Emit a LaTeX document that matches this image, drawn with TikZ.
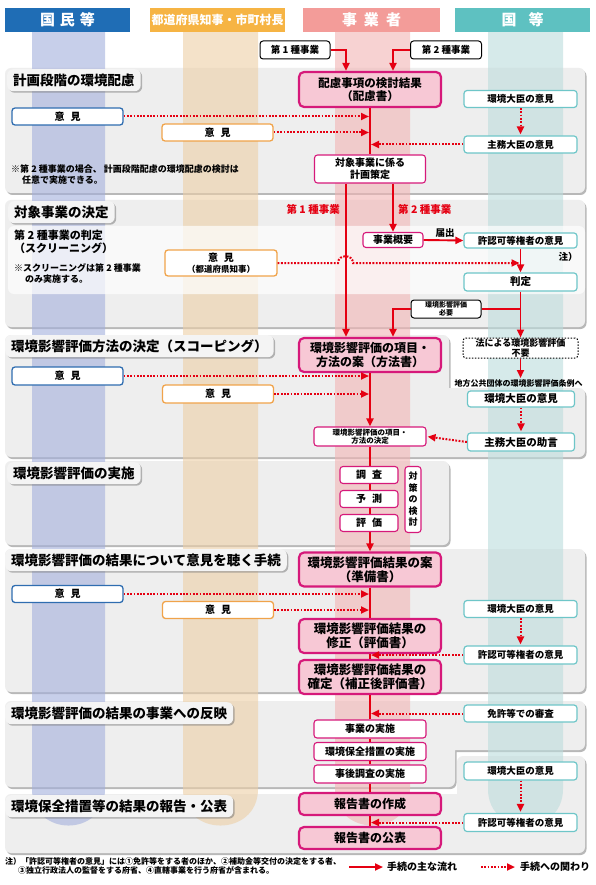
\documentclass[tikz,border=0pt]{standalone}
\usepackage{fontspec}
\setmainfont{Noto Sans CJK JP}
\usetikzlibrary{arrows.meta,shadows}
\definecolor{hblue}{HTML}{1F6DB5}
\definecolor{horange}{HTML}{F6B444}
\definecolor{hred}{HTML}{F39C99}
\definecolor{hteal}{HTML}{5EC1C1}
\definecolor{bandb}{HTML}{A3AFDC}
\definecolor{bando}{HTML}{EDCFA6}
\definecolor{bandr}{HTML}{F2B4B4}
\definecolor{bandt}{HTML}{BCDCDC}
\definecolor{secgray}{HTML}{EEEEEE}
\definecolor{tabgray}{HTML}{F4F4F4}
\definecolor{mag}{HTML}{D6197A}
\definecolor{pinkf}{HTML}{F7C8D5}
\definecolor{ared}{HTML}{E50012}
\definecolor{lblue}{HTML}{2F6DB0}
\definecolor{lorange}{HTML}{F0A34A}
\definecolor{lteal}{HTML}{6EC6C8}
\newcommand{\myfs}[2]{\fontsize{#1}{#2}\selectfont}
\begin{document}
\begin{tikzpicture}[x=1pt,y=-1pt,
  nb/.style={inner sep=0pt, align=center},
  hdr/.style={nb, minimum height=24pt, text=white, font=\bfseries\myfs{15}{16}},
  pbox/.style={nb, draw=mag, line width=2.2pt, fill=pinkf, rounded corners=5pt, minimum width=142pt, font=\bfseries\myfs{12}{14}},
  wbox/.style={nb, draw=mag, line width=1.1pt, fill=white, rounded corners=3pt, font=\bfseries\myfs{10}{12}},
  tbox/.style={nb, draw=lteal, line width=1.2pt, fill=white, rounded corners=3pt, minimum width=113pt, minimum height=17pt, font=\bfseries\myfs{9.5}{11}},
  bbox/.style={nb, draw=lblue, line width=1.3pt, fill=white, rounded corners=3pt, minimum width=111pt, minimum height=17pt, font=\bfseries\myfs{10}{11}},
  obox/.style={nb, draw=lorange, line width=1.3pt, fill=white, rounded corners=3pt, minimum width=111pt, minimum height=17pt, font=\bfseries\myfs{10}{11}},
  kbox/.style={nb, draw=black, line width=1pt, fill=white, rounded corners=3pt},
  sec/.style={fill=secgray, rounded corners=6pt, drop shadow={shadow xshift=1.5pt, shadow yshift=-2pt, fill=black!55}},
  sectab/.style={nb, fill=tabgray, rounded corners=6pt, minimum height=22pt, inner xsep=6pt, anchor=north west, font=\bfseries\myfs{13.5}{15}, drop shadow={shadow xshift=1.5pt, shadow yshift=-1.5pt, fill=black!55}},
  mainline/.style={draw=ared, line width=1.9pt},
  main/.style={mainline, -{Triangle[length=8pt,width=7pt]}},
  rel/.style={draw=ared, line width=2pt, dash pattern=on 1.8pt off 1.5pt, shorten >=1pt, -{Triangle[length=8pt,width=7pt]}},
  txt/.style={nb, font=\bfseries\myfs{9}{11}, align=left}
]
\useasboundingbox (0,0) rectangle (595,885);
\fill[white] (0,0) rectangle (595,885);
% sections
\path[sec] (5,68) rectangle (585,193);
\path[sec] (5,200) rectangle (585,327);
\path[sec] (5,335) rectangle (449,457) (5,388) rectangle (585,457);
\path[sec] (5,461) rectangle (449,545);
\path[sec] (5,549) rectangle (585,692);
\path[sec] (5,701) rectangle (585,750) (5,701) rectangle (455,787);
\path[sec] (5,794) rectangle (585,853) (457,756) rectangle (585,853);
% bands
\fill[bandb, fill opacity=0.6] (32,32) -- (32,789) .. controls (32,837.7) and (105,837.7) .. (105,789) -- (105,32) -- cycle;
\fill[bando, fill opacity=0.6] (183,32) -- (183,789) .. controls (183,837.7) and (258,837.7) .. (258,789) -- (258,32) -- cycle;
\fill[bandr, fill opacity=0.6] (335,32) -- (335,789) .. controls (335,837.7) and (410,837.7) .. (410,789) -- (410,32) -- cycle;
\fill[bandt, fill opacity=0.6] (488,32) -- (488,789) .. controls (488,837.7) and (563,837.7) .. (563,789) -- (563,32) -- cycle;
\fill[white, fill opacity=0.7, rounded corners=6pt] (8,226) rectangle (585,294);
% headers
\node[hdr, fill=hblue, minimum width=125pt] (h1) at (67.5,20) {国\hspace{5pt}民\hspace{5pt}等};
\node[hdr, fill=horange, minimum width=135pt, font=\bfseries\myfs{12}{13}] (h2) at (217.5,20) {都道府県知事・市町村長};
\node[hdr, fill=hred, minimum width=137pt] (h3) at (371.5,20) {事\hspace{7pt}業\hspace{7pt}者};
\node[hdr, fill=hteal, minimum width=135pt] (h4) at (522.5,20) {国\hspace{12pt}等};
% section tabs
\node[sectab] (tab1) at (7,69) {計画段階の環境配慮};
\node[sectab] (tab2) at (8,201) {対象事業の決定};
\node[sectab] (tab3) at (5,335) {環境影響評価方法の決定（スコーピング）};
\node[sectab] (tab4) at (7,462) {環境影響評価の実施};
\node[sectab] (tab5) at (5,549) {環境影響評価の結果について意見を聴く手続};
\node[sectab] (tab6) at (5,702) {環境影響評価の結果の事業への反映};
\node[sectab] (tab7) at (5,795) {環境保全措置等の結果の報告・公表};
% ---- section 1
\node[kbox, minimum width=70pt, minimum height=18pt, font=\bfseries\myfs{9.5}{11}] (t1a) at (295,50) {第 1 種事業};
\node[kbox, minimum width=71pt, minimum height=18pt, font=\bfseries\myfs{9.5}{11}] (t1b) at (446,50) {第 2 種事業};
\node[pbox, minimum height=35pt, font=\bfseries\myfs{11.5}{13}] (hairyo) at (370,89.5) {配慮事項の検討結果\\（配慮書）};
\node[tbox] (kankyo1) at (520.5,99) {環境大臣の意見};
\node[bbox] (iken1b) at (67.5,116.5) {意\hspace{6pt}見};
\node[obox] (iken1o) at (217.5,132.5) {意\hspace{6pt}見};
\node[tbox] (shumu1) at (520.5,144.5) {主務大臣の意見};
\node[wbox, minimum width=111pt, minimum height=28pt] (keikaku) at (370,169) {対象事業に係る\\計画策定};
\node[txt, anchor=north west] (note1) at (11,165) {※第 2 種事業の場合、 計画段階配慮の環境配慮の検討は\\\hspace{1.2em}任意で実施できる。};
\draw[main] (t1a.east) -| ([xshift=-24pt]hairyo.north);
\draw[main] (t1b.west) -| ([xshift=23pt]hairyo.north);
\draw[mainline] (hairyo.south) -- (keikaku.north);
\draw[rel] (iken1b.east) -- (iken1b.east -| hairyo.south);
\draw[rel] (iken1o.east) -- (iken1o.east -| hairyo.south);
\draw[rel] (shumu1.west) -- (shumu1.west -| hairyo.south);
\draw[rel] (kankyo1.south) -- (shumu1.north);
% ---- section 2
\node[nb, text=ared, font=\bfseries\myfs{10.5}{12}, anchor=east] (lbl1) at (340,209) {第 1 種事業};
\node[nb, text=ared, font=\bfseries\myfs{10.5}{12}, anchor=west] (lbl2) at (398,209) {第 2 種事業};
\node[txt, anchor=north west, font=\bfseries\myfs{11}{12.5}] (scr1) at (14,230) {第 2 種事業の判定\\（スクリーニング）};
\node[txt, anchor=north west] (scr2) at (14,263) {※スクリーニングは第 2 種事業\\\hspace{1.2em}のみ実施する。};
\node[obox, minimum width=112pt, minimum height=26pt] (iken2o) at (221,263) {意\hspace{6pt}見\\{\myfs{8.5}{10}（都道府県知事）}};
\node[wbox, minimum width=60pt, minimum height=15pt] (gaiyo) at (393,240) {事業概要};
\node[tbox, minimum height=15pt] (kyoka1) at (520.5,240.5) {許認可等権者の意見};
\node[nb, font=\bfseries\myfs{9.5}{11}] (todoke) at (445,233) {届出};
\node[nb, font=\bfseries\myfs{9.5}{11}] (chu) at (568,257) {注）};
\node[tbox, minimum height=18pt, font=\bfseries\myfs{10.5}{12}] (hantei) at (520.5,282) {判定};
\node[kbox, minimum width=70pt, minimum height=18pt, font=\bfseries\myfs{7}{8}] (hitsuyo) at (446,309) {環境影響評価\\必要};
% ---- section 3
\node[pbox, minimum height=34pt] (houhou) at (370,355) {環境影響評価の項目・\\方法の案（方法書）};
\node[nb, fill=white, draw=black, line width=1pt, dash pattern=on 1.5pt off 1.5pt, rounded corners=3pt, minimum width=115pt, minimum height=20pt, font=\bfseries\myfs{9}{9.5}] (houritsu) at (520.5,348) {法による環境影響評価\\不要};
\coordinate (jorei) at (520.5,378);
\node[nb, font=\bfseries\myfs{8}{9}] (joreitxt) at (518.5,383.5) {地方公共団体の環境影響評価条例へ};
\node[tbox, minimum width=107pt, minimum height=16pt, font=\bfseries\myfs{10.5}{12}] (kankyo3) at (521,399) {環境大臣の意見};
\node[tbox, minimum width=107pt, minimum height=18pt, font=\bfseries\myfs{10.5}{12}] (josgen) at (521,442) {主務大臣の助言};
\node[wbox, minimum width=112pt, minimum height=19pt, font=\bfseries\myfs{7.5}{8}] (kettei) at (370,436.5) {環境影響評価の項目・\\方法の決定};
\node[bbox, minimum height=18pt] (iken3b) at (67.5,376) {意\hspace{6pt}見};
\node[obox, minimum height=18pt] (iken3o) at (218,394) {意\hspace{6pt}見};
\draw[main] ([xshift=-24pt]keikaku.south) -- ([xshift=-24pt]keikaku.south |- houhou.north);
\draw[main] ([xshift=23pt]keikaku.south) -- (gaiyo.north);
\draw[main] (gaiyo.east) -- (kyoka1.west);
\draw[main] (kyoka1.south) -- (hantei.north);
\draw[main] (hantei.south) -- (houritsu.north);
\draw[mainline] (hantei.south |- hitsuyo.east) -- (hitsuyo.east);
\draw[main] (hitsuyo.west) -| ([xshift=23pt]houhou.north);
\draw[rel] (iken2o.east) -- (338,263) .. controls (338,254) and (353,254) .. (353,263) -- (iken2o.east -| hantei.north);
\draw[main] (houritsu.south) -- (jorei);
\draw[main] (houhou.south) -- (kettei.north);
\draw[rel] (iken3b.east) -- (iken3b.east -| houhou.south);
\draw[rel] (iken3o.east) -- (iken3o.east -| houhou.south);
\draw[rel] (kankyo3.south) -- (josgen.north);
\draw[rel] (josgen.west) -- (kettei.east);
% ---- section 5 (main boxes first)
\node[pbox, minimum height=34pt, font=\bfseries\myfs{12.5}{14}] (junbi) at (370,569.5) {環境影響評価結果の案\\（準備書）};
\draw[main] (kettei.south) -- (junbi.north);
% ---- section 4
\node[wbox, minimum width=58pt, minimum height=17pt] (chousa) at (369,475) {調\hspace{6pt}査};
\node[wbox, minimum width=58pt, minimum height=17pt] (yosoku) at (369,499) {予\hspace{6pt}測};
\node[wbox, minimum width=58pt, minimum height=17pt] (hyoka) at (369,523) {評\hspace{6pt}価};
\node[wbox, minimum width=16pt, minimum height=66pt, font=\bfseries\myfs{9}{11.5}] (taisaku) at (413,499.5) {対\\策\\の\\検\\討};
% ---- section 5
\node[bbox] (iken5b) at (67.5,594) {意\hspace{6pt}見};
\node[obox] (iken5o) at (218,610) {意\hspace{6pt}見};
\node[tbox] (kankyo5) at (520.5,609) {環境大臣の意見};
\node[pbox, minimum height=34pt, font=\bfseries\myfs{12.5}{14}] (hyokasho) at (370,636) {環境影響評価結果の\\修正（評価書）};
\node[tbox, minimum height=18pt] (kyoka5) at (520.5,655) {許認可等権者の意見};
\node[pbox, minimum height=34pt, font=\bfseries\myfs{12.5}{14}] (hosei) at (370,677) {環境影響評価結果の\\確定（補正後評価書）};
\draw[mainline] (junbi.south) -- (hyokasho.north);
\draw[mainline] (hyokasho.south) -- (hosei.north);
\draw[rel] (iken5b.east) -- (iken5b.east -| junbi.south);
\draw[rel] (iken5o.east) -- (iken5o.east -| junbi.south);
\draw[rel] (kankyo5.south) -- (kyoka5.north);
\draw[rel] (kyoka5.west) -- (kyoka5.west -| junbi.south);
% ---- section 6
\node[tbox] (menkyo) at (520.5,713.5) {免許等での審査};
\node[wbox, minimum width=112pt, minimum height=18pt] (jigyo) at (370,729) {事業の実施};
\node[wbox, minimum width=112pt, minimum height=18pt] (hozen) at (370,751.5) {環境保全措置の実施};
\node[wbox, minimum width=112pt, minimum height=18pt] (jigo) at (370,774) {事後調査の実施};
\draw[mainline] (hosei.south) -- (jigyo.north);
\draw[mainline] (jigyo.south) -- (hozen.north);
\draw[mainline] (hozen.south) -- (jigo.north);
\draw[rel] (menkyo.west) -- (menkyo.west -| jigyo.north);
% ---- section 7
\node[tbox, minimum height=18pt] (kankyo7) at (520.5,771) {環境大臣の意見};
\node[pbox, minimum height=22pt] (houkoku) at (370,804) {報告書の作成};
\node[tbox, minimum height=18pt] (kyoka7) at (520.5,822.5) {許認可等権者の意見};
\node[pbox, minimum height=22pt] (kohyo) at (370,838) {報告書の公表};
\draw[mainline] (jigo.south) -- (houkoku.north);
\draw[mainline] (houkoku.south) -- (kohyo.north);
\draw[rel] (kankyo7.south) -- (kyoka7.north);
\draw[rel] (kyoka7.west) -- (kyoka7.west -| houkoku.south);
% ---- notes and legend
\node[txt, anchor=north west, font=\bfseries\myfs{8}{9.5}] (note2) at (5,857) {注）「許認可等権者の意見」には①免許等をする者のほか、②補助金等交付の決定をする者、\\\hspace{1.6em}③独立行政法人の監督をする府省、④直轄事業を行う府省が含まれる。};
\coordinate (lg1) at (349,867);
\coordinate (lg2) at (383,867);
\coordinate (lg3) at (481,867);
\coordinate (lg4) at (516,867);
\draw[main] (lg1) -- (lg2);
\draw[rel] (lg3) -- (lg4);
\node[nb, anchor=west, font=\bfseries\myfs{10}{11}] (lgt1) at (387,867) {手続の主な流れ};
\node[nb, anchor=west, font=\bfseries\myfs{10}{11}] (lgt2) at (520,867) {手続への関わり};
\end{tikzpicture}
\end{document}
